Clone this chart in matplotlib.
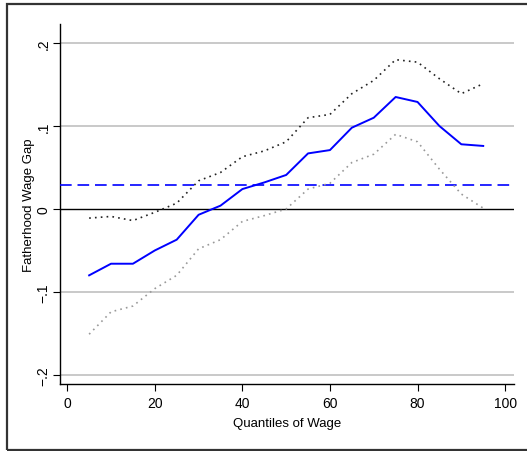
import matplotlib
matplotlib.use("Agg")
import matplotlib.pyplot as plt
from matplotlib.patches import Rectangle

quantiles = [5, 10, 15, 20, 25, 30, 35, 40, 45, 50, 55, 60, 65, 70, 75, 80, 85, 90, 95]
gap = [-0.080, -0.066, -0.066, -0.050, -0.037, -0.007, 0.004, 0.024, 0.032, 0.041,
       0.067, 0.071, 0.098, 0.110, 0.135, 0.129, 0.100, 0.078, 0.076]
upper = [-0.011, -0.009, -0.014, -0.004, 0.007, 0.034, 0.044, 0.063, 0.070, 0.081,
         0.110, 0.114, 0.139, 0.155, 0.180, 0.177, 0.157, 0.139, 0.151]
lower = [-0.151, -0.124, -0.117, -0.096, -0.080, -0.048, -0.037, -0.015, -0.008, 0.000,
         0.024, 0.031, 0.056, 0.066, 0.090, 0.081, 0.048, 0.018, 0.001]
ols_gap = 0.029
yticks = [-0.2, -0.1, 0.0, 0.1, 0.2]
ytick_labels = ["\u2212.2", "\u2212.1", "0", ".1", ".2"]
xticks = [0, 20, 40, 60, 80, 100]
xtick_labels = ["0", "20", "40", "60", "80", "100"]

plt.rcParams['font.family'] = ["Liberation Sans", "DejaVu Sans"]

fig = plt.figure(figsize=(5.27, 4.52), dpi=100)
fig.patches.append(Rectangle((7/527, 1-451/452), 1.1, (451-5)/452, transform=fig.transFigure,
                             fill=False, edgecolor="#333333", linewidth=1.6, zorder=0))
ax = fig.add_axes([59.8/527, 1-385/452, (514.3-59.8)/527, (385-25)/452])

for y in yticks:
    if y != 0:
        ax.axhline(y, color="#c0c0c0", linewidth=1.2, zorder=1)
ax.axhline(0, color="black", linewidth=1.0, zorder=2)
ax.axhline(ols_gap, color="#0000ff", linewidth=1.2, linestyle=(0, (7, 3.5)), zorder=3)

ax.plot(quantiles, upper, color="#222222", linestyle=(0, (1, 2.5)), linewidth=1.2, zorder=3)
ax.plot(quantiles, lower, color="#999999", linestyle=(0, (1, 2.5)), linewidth=1.2, zorder=3)
ax.plot(quantiles, gap, color="#0000ff", linewidth=1.4, zorder=4)

ax.set_xlim(-1.7, 102.1)
ax.set_ylim(-0.211, 0.223)
ax.set_xticks(xticks)
ax.set_xticklabels(xtick_labels)
ax.set_yticks(yticks)
ax.set_yticklabels(ytick_labels, rotation=90, va="center")
ax.tick_params(axis="both", labelsize=10, length=5, width=0.8, color="black")
ax.tick_params(axis="y", pad=1.5)
ax.tick_params(axis="x", pad=4)
for s in ["top", "right"]:
    ax.spines[s].set_visible(False)
for s in ["left", "bottom"]:
    ax.spines[s].set_linewidth(1.0)
ax.set_xlabel("Quantiles of Wage", fontsize=9.5, labelpad=5)
ax.set_ylabel("Fatherhood Wage Gap", fontsize=9.5, labelpad=1.5)

fig.savefig("out.png", dpi=100)
